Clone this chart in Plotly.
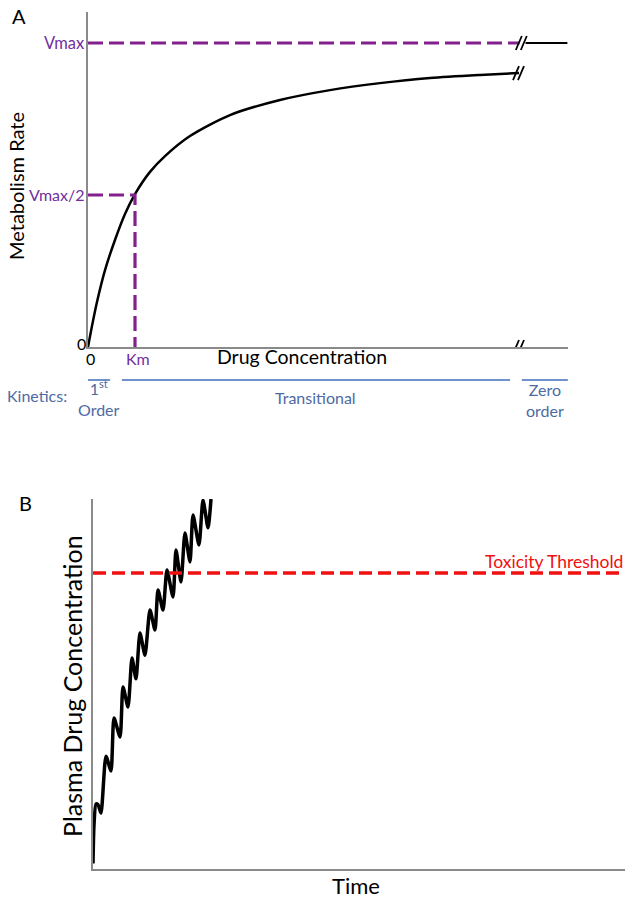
import plotly.graph_objects as go

W, H = 630, 900
FONT = "Lato"

# ---------------- Panel A data ----------------
conc_km = [0, 0.085, 0.191, 0.362, 0.574, 0.787, 1.0, 1.319, 1.638, 2.170, 3.021, 4.085, 5.149,
           6.213, 7.277, 8.340, 9.170]
rate = [0, 0.069, 0.148, 0.253, 0.352, 0.4375, 0.503, 0.576, 0.628, 0.694, 0.763, 0.8125, 0.845,
        0.868, 0.885, 0.895, 0.901]
VMAX = 1.0
KM = 1.0
BREAK_X = 9.23
X_END = 10.2
kinetics_labels = ["1<sup>st</sup><br>Order", "Transitional", "Zero<br>order"]
kinetics_spans = [(-0.02, 0.47), (0.72, 8.98), (9.23, 10.21)]

# ---------------- Panel B data ----------------
time = [0, 0.19, 0.56, 0.94, 1.50, 2.44, 3.38, 3.95, 5.08, 5.64, 6.58, 7.33, 8.08, 8.83, 9.77,
        10.71, 11.65, 12.22, 13.16, 13.91, 15.04, 15.60, 16.54, 17.29, 18.23, 18.80, 19.92,
        20.68, 21.62, 22.18]
plasma = [0.015, 0.119, 0.176, 0.174, 0.151, 0.305, 0.265, 0.408, 0.357, 0.492, 0.438, 0.570,
          0.514, 0.638, 0.578, 0.700, 0.646, 0.754, 0.700, 0.808, 0.735, 0.862, 0.776, 0.908,
          0.830, 0.957, 0.876, 0.997, 0.922, 1.0]
TOXICITY = 0.80
TOX_END = 99

PURPLE_LINE = "#82208c"
PURPLE_TEXT = "#7030A0"
BLUE_LINE = "#6f92cc"
BLUE_TEXT = "#4d6aa3"
AXIS_GRAY = "#8a8a8a"
RED = "#f01010"


def px(x):
    return x / W


def py(y):
    return 1 - y / H


fig = go.Figure()

# Panel A: metabolism rate curve
fig.add_trace(go.Scatter(x=conc_km, y=rate, mode="lines",
                         line=dict(color="black", width=2.5, shape="spline", smoothing=0.8),
                         xaxis="x", yaxis="y", cliponaxis=False, hoverinfo="skip"))
# Vmax dashed line + solid after break
fig.add_trace(go.Scatter(x=[0, BREAK_X - 0.05], y=[VMAX, VMAX], mode="lines",
                         line=dict(color=PURPLE_LINE, width=3.2, dash="15px,6px"),
                         xaxis="x", yaxis="y", cliponaxis=False))
fig.add_trace(go.Scatter(x=[BREAK_X + 0.08, X_END], y=[VMAX, VMAX], mode="lines",
                         line=dict(color="black", width=2.2), xaxis="x", yaxis="y", cliponaxis=False))
# Vmax/2 and Km dashed guides
fig.add_trace(go.Scatter(x=[0, KM, KM], y=[VMAX / 2, VMAX / 2, 0], mode="lines",
                         line=dict(color=PURPLE_LINE, width=3.2, dash="15px,6px"),
                         xaxis="x", yaxis="y", cliponaxis=False))

# Panel B
fig.add_trace(go.Scatter(x=time, y=plasma, mode="lines",
                         line=dict(color="black", width=3.5, shape="spline", smoothing=0.6),
                         xaxis="x2", yaxis="y2", cliponaxis=False))
fig.add_trace(go.Scatter(x=[0, TOX_END], y=[TOXICITY, TOXICITY], mode="lines",
                         line=dict(color=RED, width=3.5, dash="13px,6px"),
                         xaxis="x2", yaxis="y2", cliponaxis=False))

axis_common = dict(showgrid=False, zeroline=False, showticklabels=False, ticks="",
                   showline=True, linecolor=AXIS_GRAY, linewidth=2)

fig.update_layout(
    width=W, height=H, margin=dict(l=0, r=0, t=0, b=0),
    paper_bgcolor="white", plot_bgcolor="white", showlegend=False,
    font=dict(family=FONT, color="black"),
    xaxis=dict(domain=[px(88), px(568)], range=[0, 480 / 47], anchor="y", **axis_common),
    yaxis=dict(domain=[py(347), py(12)], range=[0, 335 / 304], anchor="x", **axis_common),
    xaxis2=dict(domain=[px(93), px(625)], range=[0, 100], anchor="y2", **axis_common),
    yaxis2=dict(domain=[py(869), py(499)], range=[0, 1], anchor="x2", **axis_common),
)

anns = []


def ann(text, x, y, size, color="black", xanchor="center", yanchor="middle",
        xref="paper", yref="paper", angle=0):
    anns.append(dict(text=text, x=x, y=y, xref=xref, yref=yref, xanchor=xanchor, yanchor=yanchor,
                     showarrow=False, font=dict(size=size, color=color, family=FONT), textangle=angle))


# Panel labels
ann("A", px(19), py(16), 20)
ann("B", px(25), py(503), 20)

# Panel A tick labels
ann("Vmax", px(87), VMAX, 16.5, PURPLE_TEXT, xanchor="right", yref="y")
ann("Vmax/2", px(87), VMAX / 2, 16, PURPLE_TEXT, xanchor="right", yref="y")
ann("0", px(88), 0.01, 16, "black", xanchor="right", yref="y")
ann("0", 0.06, py(358), 16, "black", xref="x")
ann("Km", KM + 0.06, py(358), 16, PURPLE_TEXT, xref="x")

# Panel A axis titles
ann("Drug Concentration", px(302), py(356), 19.5)
ann("Metabolism Rate", px(16), py(186), 20, angle=-90)

# Kinetics row
ann("Kinetics:", px(5), py(396), 16, BLUE_TEXT, xanchor="left")
label_y = [py(398), py(397), py(400)]
for lab, (a, b), ly in zip(kinetics_labels, kinetics_spans, label_y):
    ann(lab, (a + b) / 2, ly, 16, BLUE_TEXT, xref="x")

# Panel B titles
ann("Plasma Drug Concentration", px(72), py(686), 25, angle=-90)
ann("Time", px(356), py(885), 22)
ann("Toxicity Threshold", px(625), py(561), 17.5, RED, xanchor="right")

fig.update_layout(annotations=anns)

shapes = []
# Kinetics span lines
for a, b in kinetics_spans:
    shapes.append(dict(type="line", xref="x", yref="paper", x0=a, x1=b, y0=py(380), y1=py(380),
                       line=dict(color=BLUE_LINE, width=2)))


def break_mark(xval, yval, xref, yref):
    for dx in (-3, 2):
        shapes.append(dict(type="line", xref=xref, yref=yref, xsizemode="pixel", ysizemode="pixel",
                           xanchor=xval, yanchor=yval, x0=dx - 3, x1=dx + 3, y0=-7, y1=7,
                           line=dict(color="black", width=1.8)))


break_mark(BREAK_X, VMAX, "x", "y")
break_mark(conc_km[-1], rate[-1], "x", "y")
break_mark(conc_km[-1], 0, "x", "y")

fig.update_layout(shapes=shapes)

fig.write_html("out.html", config={"displayModeBar": False},
               post_script="document.body.style.margin='0';")
